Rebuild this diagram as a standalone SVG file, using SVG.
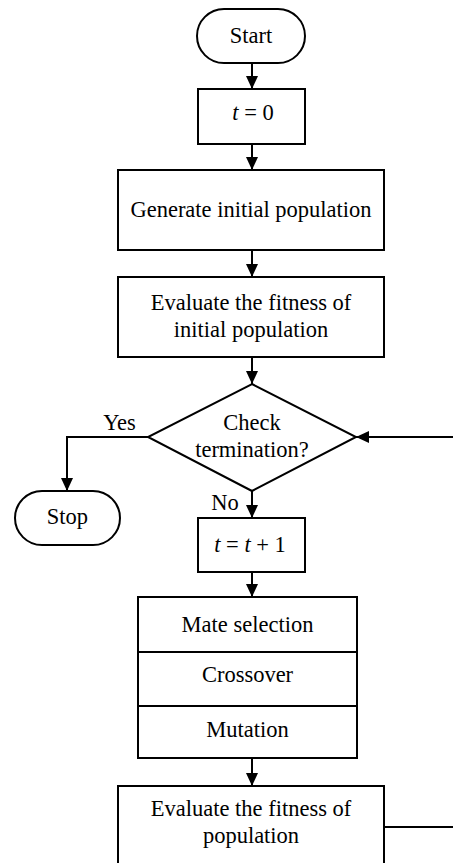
<svg xmlns="http://www.w3.org/2000/svg" width="453" height="863" viewBox="0 0 453 863">
<style>
.n{fill:#fff;stroke:#000;stroke-width:2}
.c{fill:none;stroke:#000;stroke-width:2}
.t{font-family:'Liberation Serif','DejaVu Serif',serif;font-size:22.5px;fill:#000;text-anchor:middle}
.i{font-style:italic}
</style>
<defs>
<marker id="a" markerUnits="userSpaceOnUse" markerWidth="14" markerHeight="14" refX="13" refY="6" orient="auto"><path d="M0,0 L13,6 L0,12 z" fill="#000"/></marker>
</defs>
<rect width="453" height="863" fill="#fff"/>
<g class="t" font-family="Liberation Serif, DejaVu Serif, serif">
<g id="connectors">
<path class="c" d="M252,63 V89" marker-end="url(#a)"/>
<path class="c" d="M252,144 V170" marker-end="url(#a)"/>
<path class="c" d="M252,250 V277" marker-end="url(#a)"/>
<path class="c" d="M252,357 V384" marker-end="url(#a)"/>
<path class="c" d="M148,437 H67 V491" marker-end="url(#a)"/>
<path class="c" d="M252,491 V518" marker-end="url(#a)"/>
<path class="c" d="M252,572 V597" marker-end="url(#a)"/>
<path class="c" d="M252,758 V786" marker-end="url(#a)"/>
<path class="c" d="M384,827 H456 V437 H356" marker-end="url(#a)"/>
<text x="119.5" y="430">Yes</text>
<text x="225" y="510">No</text>
</g>
<g id="start">
<rect class="n" x="197" y="9" width="108" height="54" rx="27"/>
<text x="251" y="43">Start</text>
</g>
<g id="t0">
<rect class="n" x="198" y="89" width="107" height="55"/>
<text x="253" y="120"><tspan class="i">t</tspan> = 0</text>
</g>
<g id="generate">
<rect class="n" x="118" y="170" width="266" height="80"/>
<text x="251" y="217">Generate initial population</text>
</g>
<g id="evaluate1">
<rect class="n" x="118" y="277" width="266" height="80"/>
<text x="251" y="310">Evaluate the fitness of</text>
<text x="251" y="337">initial population</text>
</g>
<g id="check">
<polygon class="n" points="252,384 356,437 252,491 148,437"/>
<text x="252" y="430">Check</text>
<text x="252" y="457">termination?</text>
</g>
<g id="stop">
<rect class="n" x="15" y="491" width="105" height="54" rx="27"/>
<text x="67.5" y="524">Stop</text>
</g>
<g id="t1">
<rect class="n" x="198" y="518" width="107" height="54"/>
<text x="250" y="552"><tspan class="i">t</tspan> = <tspan class="i">t</tspan> + 1</text>
</g>
<g id="operators">
<rect class="n" x="138" y="597" width="219" height="161"/>
<path class="c" d="M138,652 H357 M138,706 H357"/>
<text x="247.5" y="632">Mate selection</text>
<text x="247.5" y="682">Crossover</text>
<text x="247.5" y="737">Mutation</text>
</g>
<g id="evaluate2">
<rect class="n" x="118" y="786" width="266" height="100"/>
<text x="251" y="816">Evaluate the fitness of</text>
<text x="251" y="843">population</text>
</g>
</g>
</svg>
